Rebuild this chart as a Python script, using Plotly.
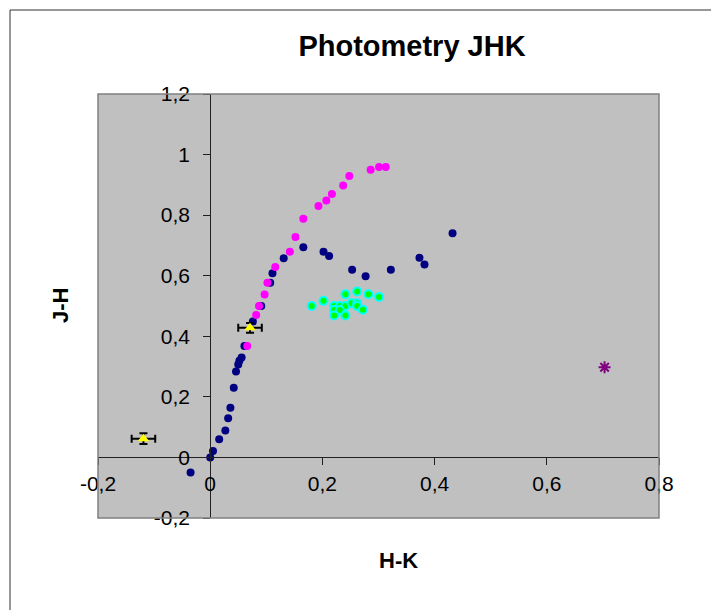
import plotly.graph_objects as go

# ---- data ----
navy_x = [-0.035, 0.000, 0.005, 0.016, 0.027, 0.032, 0.036, 0.042, 0.046, 0.050, 0.052, 0.056,
          0.061, 0.076, 0.091, 0.107, 0.111, 0.131, 0.166, 0.202, 0.212, 0.253, 0.277, 0.322,
          0.373, 0.382, 0.432]
navy_y = [-0.050, 0.000, 0.021, 0.060, 0.089, 0.129, 0.164, 0.230, 0.284, 0.307, 0.319, 0.330,
          0.368, 0.449, 0.500, 0.577, 0.608, 0.658, 0.694, 0.679, 0.665, 0.620, 0.598, 0.620,
          0.659, 0.637, 0.740]

pink_x = [0.066, 0.082, 0.087, 0.097, 0.102, 0.116, 0.142, 0.152, 0.166, 0.193, 0.207, 0.217,
          0.237, 0.248, 0.286, 0.301, 0.313]
pink_y = [0.368, 0.470, 0.500, 0.538, 0.577, 0.629, 0.679, 0.728, 0.788, 0.830, 0.848, 0.870,
          0.898, 0.929, 0.950, 0.959, 0.959]

cyan_x = [0.181, 0.202, 0.221, 0.231, 0.241, 0.221, 0.231, 0.221, 0.241, 0.252, 0.262, 0.262,
          0.272, 0.241, 0.262, 0.282, 0.301]
cyan_y = [0.500, 0.517, 0.500, 0.500, 0.500, 0.487, 0.487, 0.469, 0.469, 0.509, 0.509, 0.500,
          0.488, 0.539, 0.548, 0.539, 0.530]

tri_x = [0.071, -0.119]
tri_y = [0.428, 0.062]
tri_ex = [0.021, 0.021]
tri_ey = [0.016, 0.018]

star_x = [0.703]
star_y = [0.298]

x_ticks = [-0.2, 0.0, 0.2, 0.4, 0.6, 0.8]
x_ticktext = ["-0,2", "0", "0,2", "0,4", "0,6", "0,8"]
y_ticks = [-0.2, 0.0, 0.2, 0.4, 0.6, 0.8, 1.0, 1.2]
y_ticktext = ["-0,2", "0", "0,2", "0,4", "0,6", "0,8", "1", "1,2"]

X_RANGE = [-0.2, 0.8]
Y_RANGE = [-0.2, 1.2]

# ---- figure ----
fig = go.Figure()
fig.add_trace(go.Scatter(x=navy_x, y=navy_y, mode="markers",
                         marker=dict(color="#000080", size=8, line=dict(width=0))))
fig.add_trace(go.Scatter(x=pink_x, y=pink_y, mode="markers",
                         marker=dict(color="#FF00FF", size=8, line=dict(width=0))))
fig.add_trace(go.Scatter(x=cyan_x, y=cyan_y, mode="markers",
                         marker=dict(color="#00FF00", size=8, line=dict(color="#00FFFF", width=2))))
fig.add_trace(go.Scatter(x=tri_x, y=tri_y, mode="markers",
                         marker=dict(symbol="triangle-up", color="#FFFF00", size=10,
                                     line=dict(width=0)),
                         error_x=dict(type="data", array=tri_ex, color="black", thickness=2, width=4),
                         error_y=dict(type="data", array=tri_ey, color="black", thickness=2, width=4)))
fig.add_trace(go.Scatter(x=star_x, y=star_y, mode="markers",
                         marker=dict(symbol="asterisk-open", color="#800080", size=10,
                                     line=dict(color="#800080", width=2))))

font_family = "Liberation Sans, Arial, sans-serif"
xpos = (0 - X_RANGE[0]) / (X_RANGE[1] - X_RANGE[0])
ypos = (0 - Y_RANGE[0]) / (Y_RANGE[1] - Y_RANGE[0])

# page body offset (default 8px browser margin)
OFF = 8
PL, PR, PT, PB = 98, 659, 94, 518  # absolute plot-area edges in the window
PW, PH = PR - PL, PB - PT


def px_x(px):
    return (px - PL) / PW


def px_y(py):
    return (PB - py) / PH


fig.update_layout(
    width=719 - OFF, height=610 - OFF, autosize=False,
    margin=dict(l=PL - OFF, r=719 - PR, t=PT - OFF, b=610 - PB),
    paper_bgcolor="white", plot_bgcolor="#C0C0C0",
    showlegend=False,
    font=dict(family=font_family, color="black"),
    title=dict(text="<b>Photometry JHK</b>", x=px_x(412), xref="paper", xanchor="center",
               y=1 - (46 - OFF) / (610 - OFF), yref="container", yanchor="middle",
               font=dict(size=29, family=font_family, color="black")),
    xaxis=dict(range=X_RANGE, tickvals=x_ticks, ticktext=x_ticktext, showgrid=False,
               zeroline=False, showline=True, linecolor="#202020", linewidth=1,
               ticks="outside", ticklen=7, tickcolor="#202020", tickwidth=1,
               anchor="free", position=ypos, tickfont=dict(size=21)),
    yaxis=dict(range=Y_RANGE, tickvals=y_ticks, ticktext=y_ticktext, showgrid=False,
               zeroline=False, showline=True, linecolor="#202020", linewidth=1,
               ticks="outside", ticklen=7, tickcolor="#202020", tickwidth=1,
               ticklabelstandoff=9,
               anchor="free", position=xpos, tickfont=dict(size=21)),
    shapes=[
        dict(type="rect", xref="paper", yref="paper", x0=0, x1=1, y0=0, y1=1,
             line=dict(color="#808080", width=1.5), layer="above"),
        dict(type="rect", xref="paper", yref="paper",
             x0=px_x(10), x1=px_x(740), y0=px_y(640), y1=px_y(10),
             line=dict(color="#303030", width=1)),
    ],
    annotations=[
        dict(text="<b>H-K</b>", xref="paper", yref="paper", x=px_x(398), y=px_y(560),
             showarrow=False, xanchor="center", yanchor="middle", font=dict(size=22)),
        dict(text="<b>J-H</b>", xref="paper", yref="paper", x=px_x(60), y=px_y(306),
             showarrow=False, xanchor="center", yanchor="middle",
             textangle=-90, font=dict(size=22)),
    ],
)

fig.write_html("out.html")
